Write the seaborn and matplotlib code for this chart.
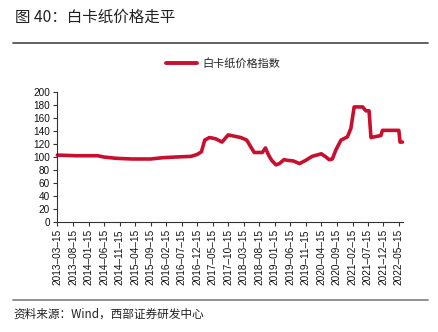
import matplotlib
matplotlib.use("Agg")
import matplotlib.pyplot as plt
from matplotlib.lines import Line2D
import seaborn as sns
import pandas as pd

# ---- data ----
dates = [
    "2013-03-15", "2013-09-15", "2014-04-15", "2014-06-15", "2014-10-15",
    "2015-03-15", "2015-09-15", "2016-01-15", "2016-05-15", "2016-10-15",
    "2016-12-15", "2017-01-25", "2017-02-27", "2017-04-15", "2017-06-15",
    "2017-08-15", "2017-10-15", "2017-12-15", "2018-02-15", "2018-04-15",
    "2018-05-15", "2018-06-27", "2018-09-15", "2018-10-15", "2018-11-15",
    "2018-12-15", "2019-01-27", "2019-03-01", "2019-04-15", "2019-05-15",
    "2019-07-15", "2019-09-15", "2019-11-15", "2020-01-15", "2020-04-15",
    "2020-05-30", "2020-07-01", "2020-08-01", "2020-09-05", "2020-10-25",
    "2020-12-27", "2021-01-30", "2021-03-03", "2021-05-24", "2021-06-27",
    "2021-07-27", "2021-08-15", "2021-11-20", "2021-12-05", "2022-05-15",
    "2022-05-27", "2022-06-20",
]
values = [
    103, 102, 102, 100, 98,
    97, 97, 99, 100, 101,
    104, 108, 126, 130, 128,
    123, 134, 132, 130, 126,
    118, 107, 107, 114, 103,
    95, 88, 90, 96, 95,
    94, 90, 95, 101, 105,
    100, 96, 97, 111, 126,
    131, 144, 177, 177, 171,
    171, 130, 133, 141, 141,
    123, 123,
]
series_name = "白卡纸价格指数"
tick_dates = [
    "2013-03-15", "2013-08-15", "2014-01-15", "2014-06-15", "2014-11-15",
    "2015-04-15", "2015-09-15", "2016-02-15", "2016-07-15", "2016-12-15",
    "2017-05-15", "2017-10-15", "2018-03-15", "2018-08-15", "2019-01-15",
    "2019-06-15", "2019-11-15", "2020-04-15", "2020-09-15", "2021-02-15",
    "2021-07-15", "2021-12-15", "2022-05-15",
]
y_ticks = [0, 20, 40, 60, 80, 100, 120, 140, 160, 180, 200]
title = "图 40：白卡纸价格走平"
source = "资料来源：Wind，西部证券研发中心"

df = pd.DataFrame({"date": pd.to_datetime(dates), "value": values})

sns.set_style("ticks")
plt.rcParams["font.family"] = ["Liberation Sans", "Noto Sans CJK SC"]
cjk = ["Noto Sans CJK SC", "Liberation Sans"]

red = "#C8102E"
fig = plt.figure(figsize=(4.39, 3.32), dpi=100)
ax = fig.add_axes([0.130, 0.331, 0.788, 0.392])

sns.lineplot(data=df, x="date", y="value", ax=ax, color=red, linewidth=2.6,
             legend=False, clip_on=False)

ax.set_ylim(0, 200)
ax.set_yticks(y_ticks)
ax.set_xlim(pd.Timestamp("2013-03-12"), pd.Timestamp("2022-06-25"))
tks = pd.to_datetime(tick_dates)
ax.set_xticks(tks)
ax.set_xticklabels([d.strftime("%Y–%m–%d") for d in tks], rotation=90)
ax.set_xlabel("")
ax.set_ylabel("")
ax.tick_params(axis="both", direction="out", length=3, width=0.8,
               color="#333333", labelsize=7.2, pad=2, labelcolor="#111111")
for s in ["top", "right"]:
    ax.spines[s].set_visible(False)
for s in ["left", "bottom"]:
    ax.spines[s].set_color("#333333")
    ax.spines[s].set_linewidth(0.8)

# legend
h = Line2D([0], [0], color=red, linewidth=2.8)
ax.legend([h], [series_name], loc="center", bbox_to_anchor=(0.508, 0.81),
          bbox_transform=fig.transFigure, frameon=False, handlelength=2.8,
          handletextpad=0.5, prop={"family": cjk, "size": 8})

# title and source
fig.text(15 / 439, 1 - 17 / 332, title, family=cjk, fontsize=11.2,
         va="center", ha="left", color="#222222")
fig.add_artist(Line2D([13 / 439, 428 / 439], [1 - 42.5 / 332] * 2,
                      color="#555555", linewidth=1.3, transform=fig.transFigure))
fig.add_artist(Line2D([13 / 439, 428 / 439], [1 - 300 / 332] * 2,
                      color="#888888", linewidth=1.3, transform=fig.transFigure))
fig.text(13 / 439, 1 - 314 / 332, source, family=cjk, fontsize=8.4,
         va="center", ha="left", color="#222222")

fig.savefig("out.png", dpi=100)
